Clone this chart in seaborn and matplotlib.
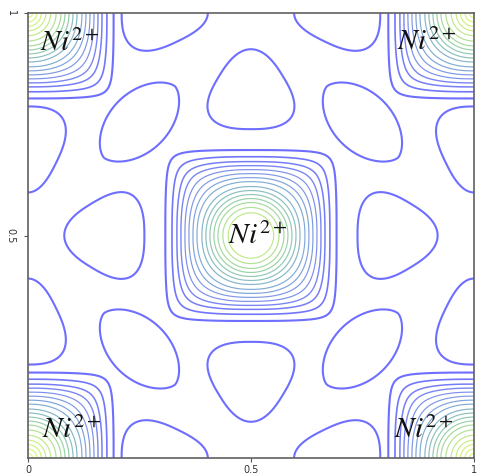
"""
Ni2+ charge density map, square cell, contour plot.
"""

import matplotlib.pyplot as plt
import numpy as np
import seaborn as sns


# ==========================================================
# Data (fractional cell coordinates)
# ==========================================================

# Ni2+ ions: cone-like density, height capped where the label sits
ni_x = [0.0, 1.0, 0.0, 1.0, 0.5]
ni_y = [0.0, 0.0, 1.0, 1.0, 0.5]
ni_top = [1.0, 1.0, 1.0, 1.0, 0.82]
ni_radius = 0.25

# contour levels (from the ring spacing around the central ion)
levels = [0.232, 0.292, 0.336, 0.372, 0.408, 0.444, 0.480, 0.516,
          0.560, 0.596, 0.632, 0.668, 0.704, 0.748, 0.796,
          0.84, 0.88, 0.92, 0.96]

# lens-shaped lobes on the diagonals
lens_x = [0.25, 0.75, 0.25, 0.75]
lens_y = [0.245, 0.245, 0.755, 0.755]
lens_angle = [-45, 45, 45, -45]
lens_half_length = 0.113
lens_half_width = 0.066

# rounded triangular lobes between the central ion and the cell edges
tri_x = [0.5, 0.5, 0.182, 0.818]
tri_y = [0.818, 0.182, 0.5, 0.5]
tri_apex = [90, -90, 180, 0]
tri_inradius = 0.079
tri_spread = 1.05

# half lobes sitting on the cell edges
edge_x = [0.295, 0.705, 0.295, 0.705, 0.0, 0.0, 1.0, 1.0]
edge_y = [1.0, 1.0, 0.0, 0.0, 0.705, 0.295, 0.705, 0.295]
edge_apex = [0, 180, 0, 180, -90, 90, -90, 90]
edge_inradius = 0.085
edge_spread = 0.85

lobe_height = 0.26

label_text = r"$Ni^{2+}$"
label_x = [0.094, 0.895, 0.515, 0.098, 0.888]
label_y = [0.933, 0.935, 0.500, 0.063, 0.063]

line_colors = ["#6e6eff", "#7c8cf0", "#80aed2", "#96d0aa", "#c4ec84", "#e2f87a"]


# ==========================================================
# Shapes
# ==========================================================

def rotate(px, py, cx, cy, angle_deg):
    a = np.deg2rad(angle_deg)
    u = (px - cx) * np.cos(a) + (py - cy) * np.sin(a)
    v = -(px - cx) * np.sin(a) + (py - cy) * np.cos(a)
    return u, v


def triangle_shape(px, py, cx, cy, apex, inradius, spread, m=2.5):
    u, v = rotate(px, py, cx, cy, apex)
    v = v / spread
    total = np.zeros_like(u)
    for normal in (180, 60, -60):
        n = np.deg2rad(normal)
        dist = u * np.cos(n) + v * np.sin(n)
        term = np.maximum(0, dist + inradius / 2) / (1.5 * inradius)
        total += term ** m
    return total ** (1 / m)


def lens_shape(px, py, cx, cy, angle):
    u, v = rotate(px, py, cx, cy, angle)
    return (np.abs(u) / lens_half_length) ** 2 + (np.abs(v) / lens_half_width) ** 1.6


# ==========================================================
# Density field
# ==========================================================

grid = np.linspace(0, 1, 701)
gx, gy = np.meshgrid(grid, grid)

field = np.zeros_like(gx)

for x0, y0, top in zip(ni_x, ni_y, ni_top):
    dx = np.abs(gx - x0)
    dy = np.abs(gy - y0)
    r = np.hypot(dx, dy)
    # rings turn from circles near the ion to rounded squares further out
    q = 2 + 5.4 * np.clip(r / 0.247, 0, 1.05) ** 3.8
    rho = (dx ** q + dy ** q) ** (1 / q)
    cone = np.minimum(1 - rho / ni_radius, top)
    field = np.maximum(field, cone)

lobe_drop = lobe_height - levels[0]

for x0, y0, ang in zip(lens_x, lens_y, lens_angle):
    shape = lens_shape(gx, gy, x0, y0, ang)
    field = np.maximum(field, lobe_height - lobe_drop * shape)

for x0, y0, ang in zip(tri_x, tri_y, tri_apex):
    shape = triangle_shape(gx, gy, x0, y0, ang, tri_inradius, tri_spread)
    field = np.maximum(field, lobe_height - lobe_drop * shape)

for x0, y0, ang in zip(edge_x, edge_y, edge_apex):
    shape = triangle_shape(gx, gy, x0, y0, ang, edge_inradius, edge_spread)
    field = np.maximum(field, lobe_height - lobe_drop * shape)


# ==========================================================
# Plot
# ==========================================================

sns.set_theme(style="white")
plt.rcParams["mathtext.fontset"] = "stix"

palette = sns.blend_palette(line_colors, n_colors=len(levels))
widths = [1.5, 1.2, 1.1, 1.0] + [0.85] * (len(levels) - 4)

fig = plt.figure(figsize=(4.8, 4.75), dpi=100)
ax = fig.add_axes([0.0583, 0.0358, 0.929, 0.9368])

ax.contour(
    gx, gy, field,
    levels=levels,
    colors=palette,
    linewidths=widths,
)

for x, y in zip(label_x, label_y):
    ax.text(x, y, label_text, fontsize=21, ha="center", va="center",
            color="#111111")

ax.set_xlim(0, 1)
ax.set_ylim(0, 1)

ax.set_xticks([0, 0.5, 1])
ax.set_xticklabels(["0", "0.5", "1"], fontsize=7, color="#333333")
ax.set_yticks([0.5, 1])
ax.set_yticklabels(["0.5", "1"], fontsize=7, color="#333333",
                   rotation=-90, va="center")

ax.tick_params(direction="out", length=3, width=0.8, color="#555555",
               pad=2, bottom=True, left=True)
ax.tick_params(axis="y", pad=6)

for spine in ax.spines.values():
    spine.set_color("#606060")
    spine.set_linewidth(1.2)

fig.savefig("out.png", dpi=100)
